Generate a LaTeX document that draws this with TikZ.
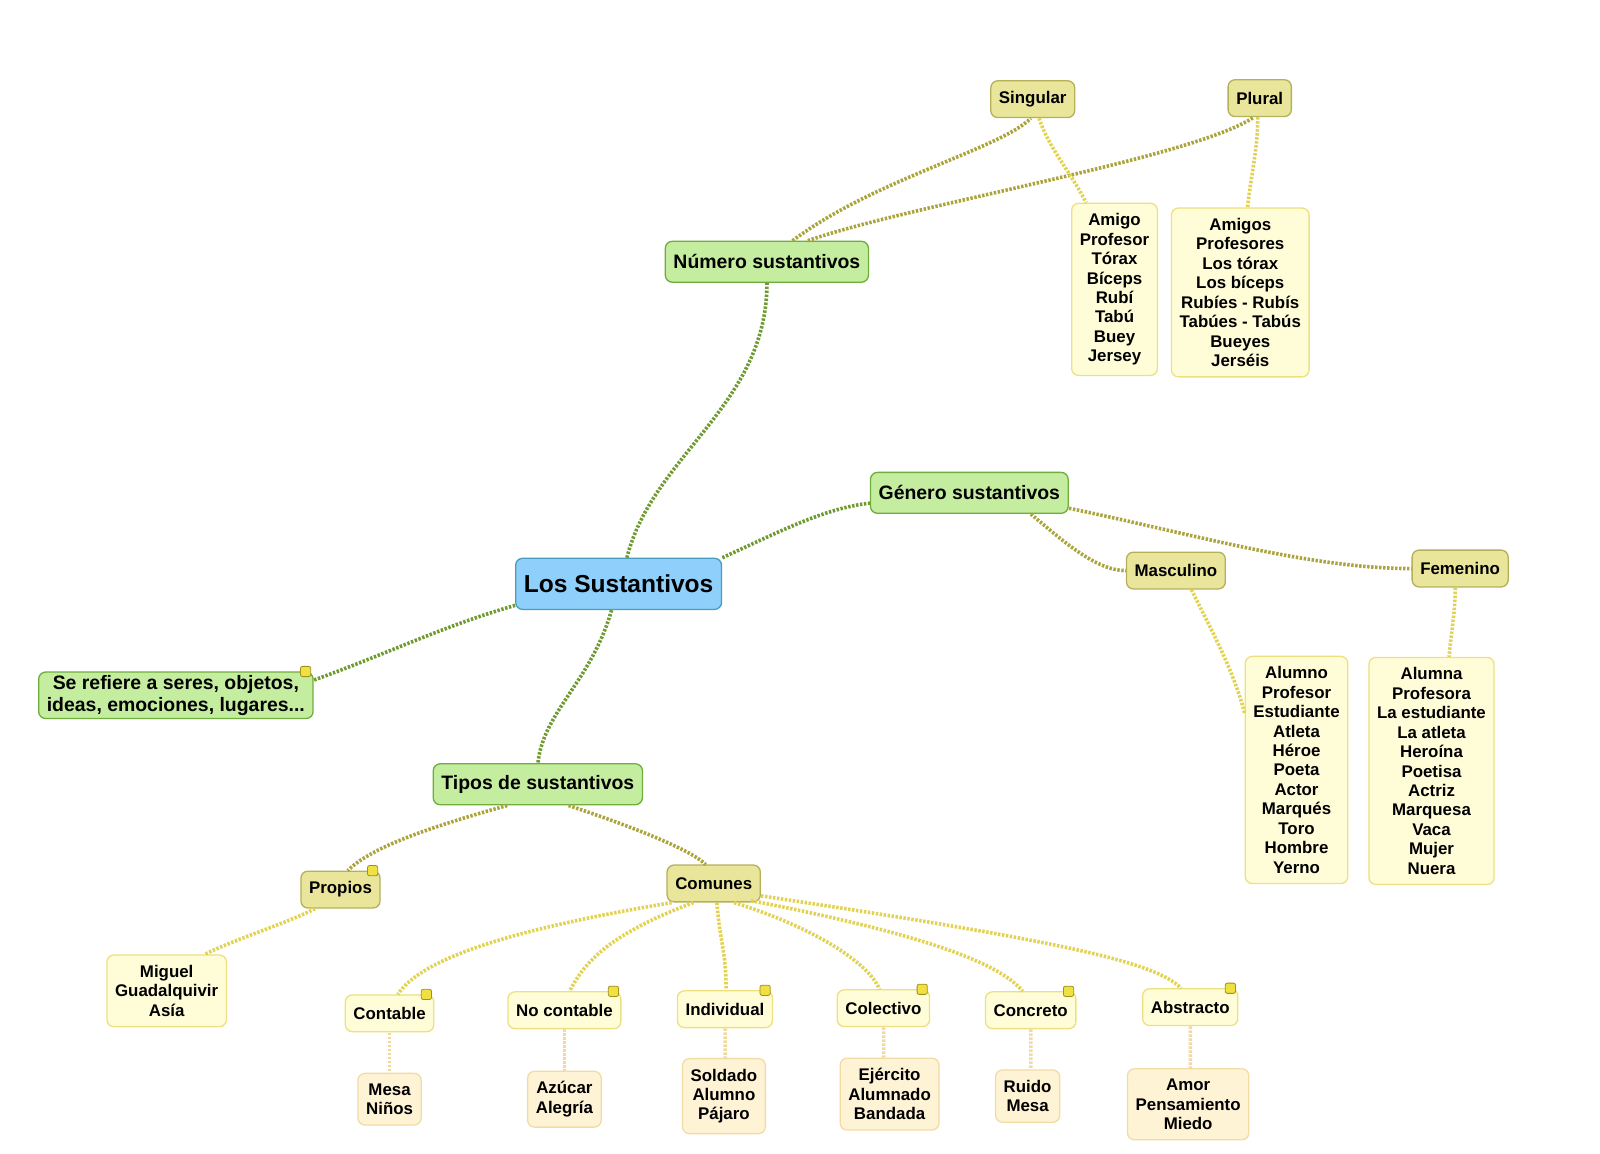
\documentclass[tikz,border=0pt]{standalone}
\usepackage{fontspec}
\setmainfont{Liberation Sans}
\usetikzlibrary{calc}
\definecolor{rootfill}{HTML}{8ECFFB}
\definecolor{rootdraw}{HTML}{4A9CBE}
\definecolor{topfill}{HTML}{C5EDA0}
\definecolor{topdraw}{HTML}{6FAE3C}
\definecolor{subfill}{HTML}{E9E69C}
\definecolor{subdraw}{HTML}{B5B05A}
\definecolor{leaffill}{HTML}{FFFDD8}
\definecolor{leafdraw}{HTML}{EEE080}
\definecolor{peachfill}{HTML}{FFF3D6}
\definecolor{peachdraw}{HTML}{F2DCA6}
\definecolor{tagfill}{HTML}{F0E040}
\definecolor{tagdraw}{HTML}{A09020}
\definecolor{gline}{HTML}{6E9A30}
\definecolor{oline}{HTML}{AAA43A}
\definecolor{yline}{HTML}{E2D250}
\definecolor{pline}{HTML}{F2D9A0}
\newcommand{\lst}{\fontsize{16.5}{19}\selectfont\bfseries}
\newcommand{\tagit}[1]{\node[notetag] at ($(#1.north east)+(-8,0)$) {};}

\begin{document}
\begin{tikzpicture}[x=1pt,y=-1pt,scale=1.0225,
    every node/.append style={transform shape},
    box/.style={rounded corners=7pt, line width=1.3pt, inner xsep=8pt, align=center},
    root/.style={box, fill=rootfill, draw=rootdraw, minimum height=50pt,
        font=\fontsize{24}{26}\selectfont\bfseries},
    topic/.style={box, fill=topfill, draw=topdraw, minimum height=40pt,
        font=\fontsize{19}{21}\selectfont\bfseries},
    sub/.style={box, fill=subfill, draw=subdraw, minimum height=36pt, font=\lst},
    leaf/.style={box, fill=leaffill, draw=leafdraw, minimum height=36pt, font=\lst},
    item/.style={box, fill=leaffill, draw=leafdraw, inner ysep=10pt, font=\lst},
    peach/.style={box, fill=peachfill, draw=peachdraw, inner ysep=10pt, font=\lst},
    notetag/.style={draw=tagdraw, fill=tagfill, line width=0.8pt, rounded corners=2pt,
        minimum size=10pt, inner sep=0pt},
    link/.style={line width=3.6pt, dash pattern=on 2.4pt off 1.6pt},
    glink/.style={link, draw=gline},
    olink/.style={link, draw=oline},
    ylink/.style={link, draw=yline},
    plink/.style={link, draw=pline},
]
    \fill[white] (0,0) rectangle (1564.8,1128.6);
    \useasboundingbox (0,0) rectangle (1564.8,1128.6);

    \node[root] (ls) at (605,571) {Los Sustantivos};
    \node[topic] (num) at (750,256) {Número sustantivos};
    \node[topic] (gen) at (948,482) {Género sustantivos};
    \node[topic] (ref) at (172,680) {Se refiere a seres, objetos,\\ideas, emociones, lugares...};
    \node[topic] (tip) at (526,767) {Tipos de sustantivos};

    \node[sub] (sing) at (1010,97) {Singular};
    \node[sub] (plu) at (1232,96) {Plural};
    \node[item] (slist) at (1090,283) {Amigo\\Profesor\\Tórax\\Bíceps\\Rubí\\Tabú\\Buey\\Jersey};
    \node[item] (plist) at (1213,286) {Amigos\\Profesores\\Los tórax\\Los bíceps\\Rubíes - Rubís\\Tabúes - Tabús\\Bueyes\\Jerséis};

    \node[sub] (masc) at (1150,558) {Masculino};
    \node[sub] (fem) at (1428,556) {Femenino};
    \node[item] (mlist) at (1268,753) {Alumno\\Profesor\\Estudiante\\Atleta\\Héroe\\Poeta\\Actor\\Marqués\\Toro\\Hombre\\Yerno};
    \node[item] (flist) at (1400,754) {Alumna\\Profesora\\La estudiante\\La atleta\\Heroína\\Poetisa\\Actriz\\Marquesa\\Vaca\\Mujer\\Nuera};

    \node[sub] (prop) at (333,870) {Propios};
    \node[sub] (com) at (698,864) {Comunes};
    \node[item] (mig) at (163,969) {Miguel\\Guadalquivir\\Asía};

    \node[leaf] (cont) at (381,991) {Contable};
    \node[leaf] (noc) at (552,988) {No contable};
    \node[leaf] (ind) at (709,987) {Individual};
    \node[leaf] (col) at (864,986) {Colectivo};
    \node[leaf] (conc) at (1008,988) {Concreto};
    \node[leaf] (abs) at (1164,985) {Abstracto};

    \node[peach] (ecnt) at (381,1075) {Mesa\\Niños};
    \node[peach] (enoc) at (552,1075) {Azúcar\\Alegría};
    \node[peach] (eind) at (708,1072) {Soldado\\Alumno\\Pájaro};
    \node[peach] (ecol) at (870,1070) {Ejército\\Alumnado\\Bandada};
    \node[peach] (econ) at (1005,1072) {Ruido\\Mesa};
    \node[peach] (eabs) at (1162,1080) {Amor\\Pensamiento\\Miedo};

    \tagit{ref}
    \tagit{prop}
    \tagit{cont}
    \tagit{noc}
    \tagit{ind}
    \tagit{col}
    \tagit{conc}
    \tagit{abs}

    % main branches
    \draw[glink] ($(ls.north)+(8,0)$) .. controls +(25,-100) and +(0,120) .. (num.south);
    \draw[glink] (ls.north east) .. controls +(55,-25) and +(-45,5) .. ($(gen.west)+(0,10)$);
    \draw[glink] ($(ls.west)+(0,21)$) .. controls +(-70,20) and +(70,-25) .. ($(ref.east)+(0,-15)$);
    \draw[glink] ($(ls.south)+(-7,0)$) .. controls +(-20,70) and +(5,-50) .. (tip.north);

    % numero
    \draw[olink] ($(num.north)+(25,0)$) .. controls +(80,-60) and +(-30,30) .. ($(sing.south)+(-2,0)$);
    \draw[olink] ($(num.north)+(40,0)$) .. controls +(100,-35) and +(-60,40) .. ($(plu.south)+(-6,0)$);
    \draw[ylink] ($(sing.south)+(6,0)$) .. controls +(10,30) and +(-15,-30) .. ($(slist.north)+(-28,0)$);
    \draw[ylink] ($(plu.south)+(-2,0)$) .. controls +(0,30) and +(3,-30) .. ($(plist.north)+(7,0)$);

    % genero
    \draw[olink] ($(gen.south)+(60,0)$) .. controls +(30,25) and +(-30,0) .. (masc.west);
    \draw[olink] ($(gen.east)+(0,15)$) .. controls +(120,25) and +(-100,0) .. (fem.west);
    \draw[ylink] ($(masc.south)+(15,0)$) .. controls +(20,40) and +(-10,-40) .. ($(mlist.west)+(0,-55)$);
    \draw[ylink] ($(fem.south)+(-5,0)$) .. controls +(0,25) and +(2,-25) .. ($(flist.north)+(17,0)$);

    % tipos
    \draw[olink] ($(tip.south)+(-30,0)$) .. controls +(-90,25) and +(20,-20) .. ($(prop.north)+(7,0)$);
    \draw[olink] ($(tip.south)+(30,0)$) .. controls +(60,20) and +(-15,-15) .. ($(com.north)+(-8,0)$);
    \draw[ylink] ($(prop.south)+(-25,0)$) .. controls +(-30,15) and +(30,-15) .. ($(mig.north)+(37,0)$);
    \draw[ylink] ($(com.south west)+(5,0)$) .. controls +(-180,30) and +(20,-30) .. ($(cont.north)+(8,0)$);
    \draw[ylink] ($(com.south)+(-20,0)$) .. controls +(-80,30) and +(15,-30) .. ($(noc.north)+(5,0)$);
    \draw[ylink] ($(com.south)+(3,0)$) .. controls +(3,40) and +(0,-40) .. ($(ind.north)+(1,0)$);
    \draw[ylink] ($(com.south)+(20,0)$) .. controls +(80,25) and +(-10,-25) .. ($(col.north)+(-4,0)$);
    \draw[ylink] ($(com.south east)+(-10,-2)$) .. controls +(180,35) and +(-20,-25) .. ($(conc.north)+(-8,0)$);
    \draw[ylink] ($(com.east)+(0,12)$) .. controls +(300,45) and +(-25,-25) .. ($(abs.north)+(-9,0)$);

    % ejemplos
    \draw[plink] (cont.south) -- (ecnt.north);
    \draw[plink] (noc.south) -- (enoc.north);
    \draw[plink] (ind.south) -- ($(eind.north)+(1,0)$);
    \draw[plink] (col.south) -- ($(ecol.north)+(-6,0)$);
    \draw[plink] (conc.south) -- ($(econ.north)+(3,0)$);
    \draw[plink] (abs.south) -- ($(eabs.north)+(2,0)$);
\end{tikzpicture}
\end{document}
